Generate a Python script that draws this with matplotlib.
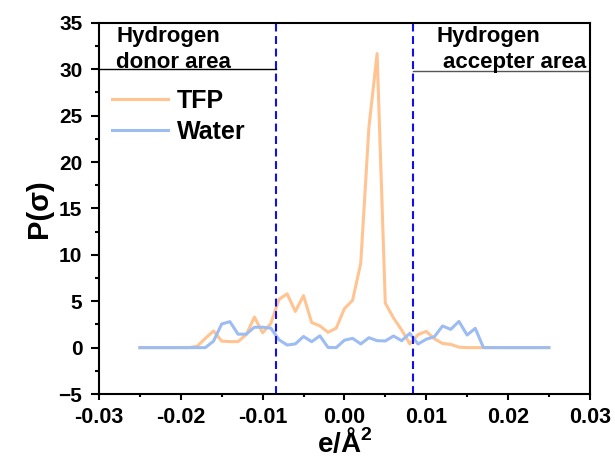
import numpy as np
import matplotlib.pyplot as plt
from matplotlib.ticker import MultipleLocator

plt.rcParams['font.family'] = ['Liberation Sans', 'DejaVu Sans']
plt.rcParams['font.weight'] = 'bold'
plt.rcParams['mathtext.fontset'] = 'custom'
plt.rcParams['mathtext.rm'] = 'Liberation Sans:bold'
plt.rcParams['mathtext.bf'] = 'Liberation Sans:bold'

# sigma grid: -0.025 ... 0.025 step 0.001
sigma = np.round(np.arange(-0.025, 0.0251, 0.001), 3)

tfp = [0, 0, 0, 0, 0, 0, 0, 0.15, 1.0, 1.8,
       0.7, 0.65, 0.65, 1.4, 3.3, 1.6, 2.6, 5.2, 5.8, 3.9,
       5.6, 2.7, 2.35, 1.65, 2.1, 4.2, 5.1, 9.1, 23.8, 31.7,
       4.8, 3.2, 1.9, 0.4, 1.4, 1.75, 0.95, 0.45, 0.35, 0.05,
       0, 0, 0, 0, 0, 0, 0, 0, 0, 0, 0]

water = [0, 0, 0, 0, 0, 0, 0, 0, 0, 0.7,
         2.55, 2.8, 1.45, 1.45, 2.2, 2.2, 2.1, 0.85, 0.28, 0.4,
         1.2, 0.64, 1.27, 0.02, 0, 0.8, 1.0, 0.4, 1.07, 0.75,
         0.72, 1.25, 0.75, 1.54, 0.39, 0.9, 1.18, 2.33, 1.97, 2.83,
         1.36, 2.08, 0, 0, 0, 0, 0, 0, 0, 0, 0]

sigma_hb = 0.0084

fig = plt.figure(figsize=(6.15, 4.61), dpi=100)
ax = fig.add_axes([0.161, 0.1453, 0.798, 0.805])

ax.plot(sigma, tfp, color='#ffc491', lw=2.2, label='TFP')
ax.plot(sigma, water, color='#9dbcf2', lw=2.2, label='Water')

# hydrogen-bond cutoffs
ax.axvline(-sigma_hb, color='#1010ee', ls=(0, (3.8, 2.2)), lw=1.5)
ax.axvline(sigma_hb, color='#1010ee', ls=(0, (3.8, 2.2)), lw=1.5)
ax.plot([-0.03, -sigma_hb], [30, 30], color='black', lw=1)
ax.plot([sigma_hb, 0.03], [29.8, 29.8], color='#555555', lw=1)

ax.text(-0.0279, 32.9, 'Hydrogen', fontsize=16, fontweight='bold', va='baseline')
ax.text(-0.0279, 30.15, 'donor area', fontsize=16, fontweight='bold', va='baseline')
ax.text(0.0113, 32.9, 'Hydrogen', fontsize=16, fontweight='bold', va='baseline')
ax.text(0.0120, 30.1, 'accepter area', fontsize=16, fontweight='bold', va='baseline')

ax.set_xlim(-0.03, 0.03)
ax.set_ylim(-5, 35)
ax.xaxis.set_major_locator(MultipleLocator(0.01))
ax.xaxis.set_minor_locator(MultipleLocator(0.005))
ax.yaxis.set_major_locator(MultipleLocator(5))
ax.yaxis.set_minor_locator(MultipleLocator(2.5))
ax.set_xticklabels([f'{v:.2f}' for v in ax.get_xticks()])
ax.tick_params(which='both', direction='out', width=1.5, top=False, right=False)
ax.tick_params(axis='x', which='major', length=4.5, pad=5, labelsize=15.5)
ax.tick_params(axis='x', which='minor', length=2.5)
ax.tick_params(axis='y', which='major', length=6, pad=6, labelsize=15)
ax.tick_params(axis='y', which='minor', length=3)
for lab in ax.get_xticklabels() + ax.get_yticklabels():
    lab.set_fontweight('bold')
for sp in ax.spines.values():
    sp.set_linewidth(1.5)

ax.set_ylabel('P(σ)', fontsize=21, fontweight='bold', labelpad=4)
ax.set_xlabel('e/Å$^{\\mathbf{2}}$', fontsize=20, fontweight='bold', labelpad=0)

ax.legend(loc='upper left', bbox_to_anchor=(0.0265, 0.822), frameon=False,
          prop={'size': 18, 'weight': 'bold'}, handlelength=2.24,
          handletextpad=0.36, labelspacing=0.28, borderpad=0, borderaxespad=0)

fig.savefig('out.png', dpi=100)
